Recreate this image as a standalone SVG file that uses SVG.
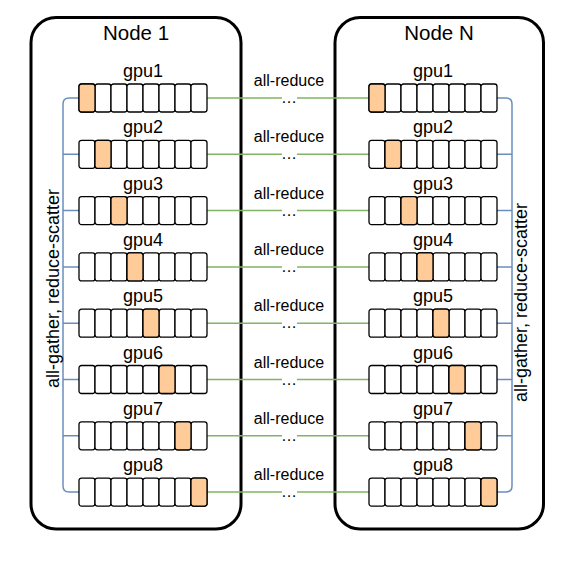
<svg xmlns="http://www.w3.org/2000/svg" xmlns:xlink="http://www.w3.org/1999/xlink" width="565" height="570" viewBox="0 0 565 570">
<style>
  text { font-family: "Liberation Sans", Arial, Helvetica, sans-serif; fill: #000; }
  .box { fill: #fff; stroke: #000; stroke-width: 3; }
  .cell { fill: #fff; stroke: #000; stroke-width: 1.3; }
  .hot { fill: #ffcc99; stroke: #000; stroke-width: 1.3; }
  .title { font-size: 20.5px; text-anchor: middle; }
  .gpu { font-size: 18px; text-anchor: middle; }
  .elab { font-size: 16px; text-anchor: middle; }
  .side { font-size: 18px; text-anchor: middle; }
  .blue { fill: none; stroke: #6c8ebf; stroke-width: 1.5; }
  .green { fill: none; stroke: #82b366; stroke-width: 1.5; }
</style>
<defs>
  <g id="row">
    <rect class="cell" x="0" y="0" width="16" height="28" rx="2.5"/>
    <rect class="cell" x="16" y="0" width="16" height="28" rx="2.5"/>
    <rect class="cell" x="32" y="0" width="16" height="28" rx="2.5"/>
    <rect class="cell" x="48" y="0" width="16" height="28" rx="2.5"/>
    <rect class="cell" x="64" y="0" width="16" height="28" rx="2.5"/>
    <rect class="cell" x="80" y="0" width="16" height="28" rx="2.5"/>
    <rect class="cell" x="96" y="0" width="16" height="28" rx="2.5"/>
    <rect class="cell" x="112" y="0" width="16" height="28" rx="2.5"/>
  </g>
</defs>
<rect width="565" height="570" fill="#fff"/>

<g id="node1">
  <rect class="box" x="31" y="17.5" width="210" height="511.5" rx="25"/>
  <text class="title" x="136" y="40">Node 1</text>
</g>
<g id="nodeN">
  <rect class="box" x="335" y="17.5" width="208.5" height="511.5" rx="25"/>
  <text class="title" x="439" y="40">Node N</text>
</g>

<g id="connectors">
  <path class="blue" d="M79,98 H69 Q63,98 63,104 V486 Q63,492 69,492 H79 M63,154.3 H79 M63,210.6 H79 M63,266.9 H79 M63,323.2 H79 M63,379.5 H79 M63,435.8 H79"/>
  <path class="blue" d="M497,98 H506 Q512,98 512,104 V486 Q512,492 506,492 H497 M512,154.3 H497 M512,210.6 H497 M512,266.9 H497 M512,323.2 H497 M512,379.5 H497 M512,435.8 H497"/>
  <path class="green" d="M207,98 H282 M297,98 H369 M207,154.3 H282 M297,154.3 H369 M207,210.6 H282 M297,210.6 H369 M207,266.9 H282 M297,266.9 H369 M207,323.2 H282 M297,323.2 H369 M207,379.5 H282 M297,379.5 H369 M207,435.8 H282 M297,435.8 H369 M207,492.1 H282 M297,492.1 H369"/>
  <g class="elab">
    <text x="289" y="86">all-reduce</text><text x="289" y="103">…</text>
    <text x="289" y="142.3">all-reduce</text><text x="289" y="159.3">…</text>
    <text x="289" y="198.6">all-reduce</text><text x="289" y="215.6">…</text>
    <text x="289" y="254.9">all-reduce</text><text x="289" y="271.9">…</text>
    <text x="289" y="311.2">all-reduce</text><text x="289" y="328.2">…</text>
    <text x="289" y="367.5">all-reduce</text><text x="289" y="384.5">…</text>
    <text x="289" y="423.8">all-reduce</text><text x="289" y="440.8">…</text>
    <text x="289" y="480.1">all-reduce</text><text x="289" y="497.1">…</text>
  </g>
  <text class="side" transform="translate(58.5,288.5) rotate(-90)">all-gather, reduce-scatter</text>
  <text class="side" transform="translate(527,302.5) rotate(-90)">all-gather, reduce-scatter</text>
</g>

<g id="node1-gpu1"><text class="gpu" x="143" y="77">gpu1</text><use xlink:href="#row" x="79" y="84"/><rect class="hot" x="79" y="84" width="16" height="28" rx="2.5"/></g>
<g id="node1-gpu2"><text class="gpu" x="143" y="133.3">gpu2</text><use xlink:href="#row" x="79" y="140.3"/><rect class="hot" x="95" y="140.3" width="16" height="28" rx="2.5"/></g>
<g id="node1-gpu3"><text class="gpu" x="143" y="189.6">gpu3</text><use xlink:href="#row" x="79" y="196.6"/><rect class="hot" x="111" y="196.6" width="16" height="28" rx="2.5"/></g>
<g id="node1-gpu4"><text class="gpu" x="143" y="245.9">gpu4</text><use xlink:href="#row" x="79" y="252.9"/><rect class="hot" x="127" y="252.9" width="16" height="28" rx="2.5"/></g>
<g id="node1-gpu5"><text class="gpu" x="143" y="302.2">gpu5</text><use xlink:href="#row" x="79" y="309.2"/><rect class="hot" x="143" y="309.2" width="16" height="28" rx="2.5"/></g>
<g id="node1-gpu6"><text class="gpu" x="143" y="358.5">gpu6</text><use xlink:href="#row" x="79" y="365.5"/><rect class="hot" x="159" y="365.5" width="16" height="28" rx="2.5"/></g>
<g id="node1-gpu7"><text class="gpu" x="143" y="414.8">gpu7</text><use xlink:href="#row" x="79" y="421.8"/><rect class="hot" x="175" y="421.8" width="16" height="28" rx="2.5"/></g>
<g id="node1-gpu8"><text class="gpu" x="143" y="471.1">gpu8</text><use xlink:href="#row" x="79" y="478.1"/><rect class="hot" x="191" y="478.1" width="16" height="28" rx="2.5"/></g>

<g id="nodeN-gpu1"><text class="gpu" x="433" y="77">gpu1</text><use xlink:href="#row" x="369" y="84"/><rect class="hot" x="369" y="84" width="16" height="28" rx="2.5"/></g>
<g id="nodeN-gpu2"><text class="gpu" x="433" y="133.3">gpu2</text><use xlink:href="#row" x="369" y="140.3"/><rect class="hot" x="385" y="140.3" width="16" height="28" rx="2.5"/></g>
<g id="nodeN-gpu3"><text class="gpu" x="433" y="189.6">gpu3</text><use xlink:href="#row" x="369" y="196.6"/><rect class="hot" x="401" y="196.6" width="16" height="28" rx="2.5"/></g>
<g id="nodeN-gpu4"><text class="gpu" x="433" y="245.9">gpu4</text><use xlink:href="#row" x="369" y="252.9"/><rect class="hot" x="417" y="252.9" width="16" height="28" rx="2.5"/></g>
<g id="nodeN-gpu5"><text class="gpu" x="433" y="302.2">gpu5</text><use xlink:href="#row" x="369" y="309.2"/><rect class="hot" x="433" y="309.2" width="16" height="28" rx="2.5"/></g>
<g id="nodeN-gpu6"><text class="gpu" x="433" y="358.5">gpu6</text><use xlink:href="#row" x="369" y="365.5"/><rect class="hot" x="449" y="365.5" width="16" height="28" rx="2.5"/></g>
<g id="nodeN-gpu7"><text class="gpu" x="433" y="414.8">gpu7</text><use xlink:href="#row" x="369" y="421.8"/><rect class="hot" x="465" y="421.8" width="16" height="28" rx="2.5"/></g>
<g id="nodeN-gpu8"><text class="gpu" x="433" y="471.1">gpu8</text><use xlink:href="#row" x="369" y="478.1"/><rect class="hot" x="481" y="478.1" width="16" height="28" rx="2.5"/></g>
</svg>
